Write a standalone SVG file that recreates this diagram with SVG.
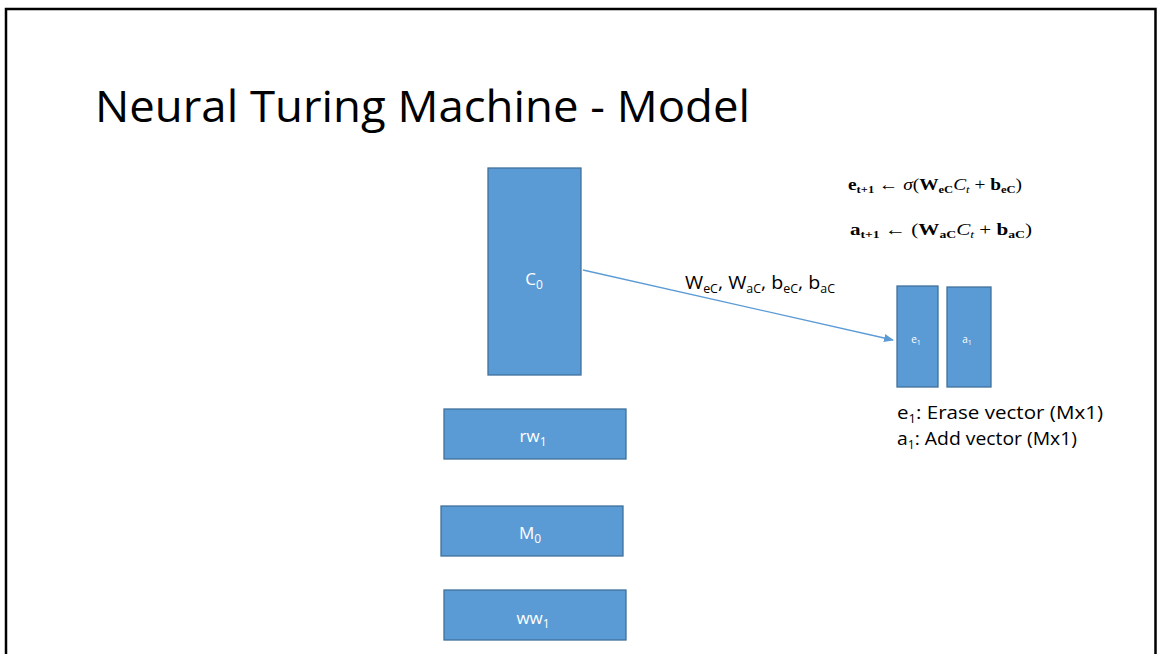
<svg xmlns="http://www.w3.org/2000/svg" width="1158" height="654" viewBox="0 0 1158 654">
<style>
.box{fill:#5B9BD5;stroke:#41719C;stroke-width:1.3}
.lbl{font-family:"Open Sans","Liberation Sans",sans-serif;fill:#ffffff;text-anchor:middle}
.txt{font-family:"Open Sans","Liberation Sans",sans-serif;fill:#000000}
.math{font-family:"Liberation Serif",serif;fill:#000000;font-size:17px}
.b{font-weight:bold}
.i{font-style:italic}
</style>
<defs>
<marker id="arr" markerWidth="10" markerHeight="8" refX="9" refY="4" orient="auto" markerUnits="userSpaceOnUse">
<path d="M0,0 L10,4 L0,8 Z" fill="#5B9BD5"/>
</marker>
</defs>
<rect x="0" y="0" width="1158" height="654" fill="#ffffff"/>
<rect x="6" y="9" width="1149.5" height="660" fill="none" stroke="#000000" stroke-width="2.5"/>
<text class="txt" x="95" y="122" font-size="44" textLength="655" lengthAdjust="spacingAndGlyphs">Neural Turing Machine - Model</text>

<g id="connectors">
<line x1="583" y1="270" x2="893" y2="340" stroke="#5B9BD5" stroke-width="1.3" marker-end="url(#arr)"/>
<text class="txt" x="685" y="289" font-size="19" textLength="150" lengthAdjust="spacingAndGlyphs">W<tspan font-size="12" dy="4">eC</tspan><tspan dy="-4">, W</tspan><tspan font-size="12" dy="4">aC</tspan><tspan dy="-4">, b</tspan><tspan font-size="12" dy="4">eC</tspan><tspan dy="-4">, b</tspan><tspan font-size="12" dy="4">aC</tspan></text>
</g>

<g id="node-c0">
<rect class="box" x="488" y="168" width="93" height="207"/>
<text class="lbl" x="534" y="285" font-size="17">C<tspan font-size="12" dy="4">0</tspan></text>
</g>
<g id="node-rw1">
<rect class="box" x="444" y="409" width="182" height="50"/>
<text class="lbl" x="533" y="442" font-size="17">rw<tspan font-size="12" dy="4">1</tspan></text>
</g>
<g id="node-m0">
<rect class="box" x="441" y="506" width="182" height="50"/>
<text class="lbl" x="530" y="539" font-size="17">M<tspan font-size="12" dy="4">0</tspan></text>
</g>
<g id="node-ww1">
<rect class="box" x="444" y="590" width="182" height="50"/>
<text class="lbl" x="533" y="624" font-size="17">ww<tspan font-size="12" dy="4">1</tspan></text>
</g>
<g id="node-e1">
<rect class="box" x="897" y="286" width="41" height="101"/>
<text class="lbl" x="916" y="343" font-size="10">e<tspan font-size="7" dy="2">1</tspan></text>
</g>
<g id="node-a1">
<rect class="box" x="947" y="287" width="44" height="100"/>
<text class="lbl" x="967" y="343" font-size="10">a<tspan font-size="7" dy="2">1</tspan></text>
</g>

<g id="legend">
<text class="txt" x="897" y="419" font-size="19" textLength="206" lengthAdjust="spacingAndGlyphs">e<tspan font-size="12" dy="4">1</tspan><tspan dy="-4">: Erase vector (Mx1)</tspan></text>
<text class="txt" x="897" y="445" font-size="19" textLength="180" lengthAdjust="spacingAndGlyphs">a<tspan font-size="12" dy="4">1</tspan><tspan dy="-4">: Add vector (Mx1)</tspan></text>
</g>

<g id="equations">
<text class="math" x="848" y="190" textLength="174" lengthAdjust="spacingAndGlyphs"><tspan class="b">e</tspan><tspan class="b" font-size="11" dy="3">t+1</tspan><tspan dy="-3"> ← </tspan><tspan class="i">σ</tspan>(<tspan class="b">W</tspan><tspan class="b" font-size="11" dy="3">eC</tspan><tspan class="i" dy="-3">C</tspan><tspan class="i" font-size="11" dy="3">t</tspan><tspan dy="-3"> + </tspan><tspan class="b">b</tspan><tspan class="b" font-size="11" dy="3">eC</tspan><tspan dy="-3">)</tspan></text>
<text class="math" x="850" y="235" textLength="182" lengthAdjust="spacingAndGlyphs"><tspan class="b">a</tspan><tspan class="b" font-size="11" dy="3">t+1</tspan><tspan dy="-3"> ← (</tspan><tspan class="b">W</tspan><tspan class="b" font-size="11" dy="3">aC</tspan><tspan class="i" dy="-3">C</tspan><tspan class="i" font-size="11" dy="3">t</tspan><tspan dy="-3"> + </tspan><tspan class="b">b</tspan><tspan class="b" font-size="11" dy="3">aC</tspan><tspan dy="-3">)</tspan></text>
</g>
</svg>
